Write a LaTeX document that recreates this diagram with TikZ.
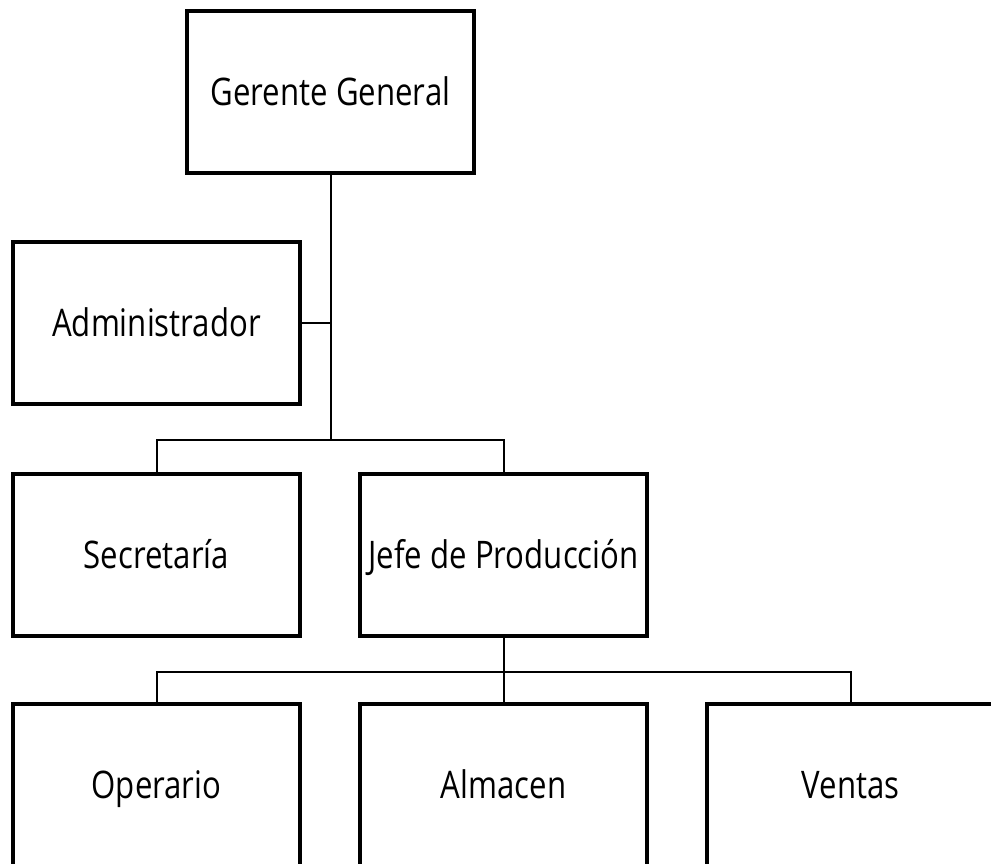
\documentclass[tikz,border=0pt]{standalone}
\usepackage{fontspec}
\setmainfont{Open Sans}
\usepackage{tikz}
\usetikzlibrary{positioning}
\tikzstyle{organigrama} = [x = 1pt, y = -1pt]
\tikzstyle{puestoStyle} = [draw=black, line width=4pt, fill=white, minimum width=287pt, minimum height=162pt, inner sep=0pt, text height=27pt, text depth=0pt, font=\fontsize{38}{44}\selectfont]
\tikzstyle{enlace} = [draw=black, line width=2pt]
\newcommand{\puestoText}[1]{\scalebox{0.82}[1]{#1}}
\newcommand{\puesto}[4]{\node [puestoStyle] (#1) at (#2, #3) {\puestoText{#4}};}

\begin{document}
\begin{tikzpicture}[organigrama]
    \useasboundingbox (0,0) rectangle (991,863);
    \clip (0,0) rectangle (991,863);
    \coordinate (busAlto) at (330.5,440);
    \coordinate (busBajo) at (503.5,672);
    \puesto{gerente}{330.5}{92}{Gerente General}
    \puesto{admin}{156.5}{323}{Administrador}
    \puesto{secre}{156.5}{554.5}{Secretaría}
    \puesto{jefe}{503.5}{554.5}{Jefe de Producción}
    \puesto{operario}{156.5}{785}{Operario}
    \puesto{almacen}{503.5}{785}{Almacen}
    \puesto{ventas}{850.5}{785}{Ventas}
    % lineas
    \draw [enlace] (gerente.south) -- (busAlto);
    \draw [enlace] (admin.east) -- (admin.east -| busAlto);
    \draw [enlace] (secre.north) |- (busAlto) -| (jefe.north);
    \draw [enlace] (jefe.south) -- (almacen.north);
    \draw [enlace] (operario.north) |- (busBajo) -| (ventas.north);
\end{tikzpicture}
\end{document}
